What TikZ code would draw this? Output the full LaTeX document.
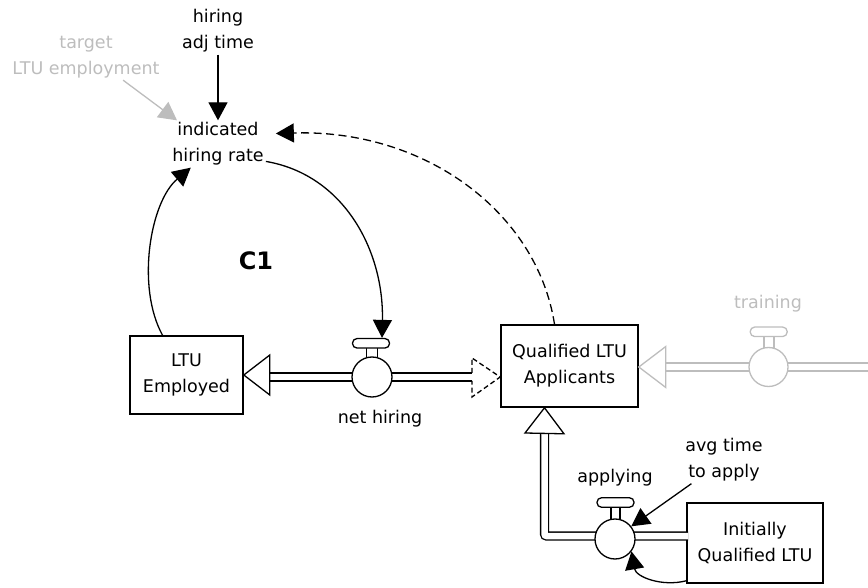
\documentclass[tikz,border=0pt]{standalone}
\usepackage{fontspec}
\setmainfont{DejaVu Sans}
\usetikzlibrary{arrows.meta}
\definecolor{faded}{gray}{0.74}
\tikzset{
  lbl/.style={align=center, font=\fontsize{17.5}{26}\selectfont, inner sep=2pt},
  stock/.style={draw, line width=1.6pt, fill=white, align=center,
    font=\fontsize{17.5}{26}\selectfont, inner sep=0pt},
  link/.style={line width=1.3pt, -{Triangle[length=18pt,width=19pt]}},
  pipe/.style={draw=#1, line width=1.3pt, double=white, double distance=6.5pt},
  pipe/.default=black,
  pipehead/.style={draw=#1, fill=white, line width=1.3pt, line join=miter},
  pipehead/.default=black,
  valvebody/.style={circle, draw=#1, fill=white, line width=1.3pt,
    minimum size=40pt, inner sep=0pt},
  valvebody/.default=black,
  valvecap/.style={draw=#1, fill=white, line width=1.3pt, rounded corners=4.5pt,
    minimum width=37pt, minimum height=9.5pt, inner sep=0pt},
  valvecap/.default=black,
  valvestem/.style={draw=#1, fill=white, line width=1.3pt},
  valvestem/.default=black,
}
\begin{document}
\begin{tikzpicture}[x=1pt,y=1pt]
\useasboundingbox (0,0) rectangle (868,587);

% auxiliary variables and their text
\node[lbl] (adj) at (218,556) {hiring\\adj time};
\node[lbl, text=faded] (tgt) at (86,530) {target\\LTU employment};
\node[lbl] (ind) at (218,443) {indicated\\hiring rate};
\node[font=\bfseries\fontsize{24}{26}\selectfont] (c1) at (256,326) {C1};
\node[lbl] (nhl) at (380,168) {net hiring};
\node[lbl, text=faded] (trl) at (768,283) {training};
\node[lbl] (apl) at (615,109) {applying};
\node[lbl] (avg) at (724,127) {avg time\\to apply};

% pipe end points
\coordinate (empbase) at (269,210);
\coordinate (nhend) at (472,210);
\coordinate (trbase) at (665,220);
\coordinate (trsrc) at (875,220);
\coordinate (qbase) at (544.5,154);

% flows (pipes)
\draw[pipe] ([xshift=-1pt]empbase) -- (nhend);
\draw[pipe=faded] ([xshift=-1pt]trbase) -- (trsrc);

% stocks
\node[stock, minimum width=113pt, minimum height=78pt] (emp) at (186.5,212) {LTU\\Employed};
\node[stock, minimum width=137pt, minimum height=82pt] (qual) at (569.5,221) {Qualified LTU\\Applicants};
\node[stock, minimum width=136pt, minimum height=80pt] (init) at (755,44) {Initially\\Qualified LTU};

% applying pipe, entering the stock from below
\draw[pipe, rounded corners=2pt] ([xshift=2pt,yshift=7pt]init.west) -| ([yshift=-1pt]qbase);
\draw[pipehead] (qbase) ++(-19.5,0) -- (qual.south -| qbase) -- ++(19.5,-26) -- cycle;

% pipe arrowheads
\draw[pipehead] (emp.east) -- ++(26,20) -- ++(0,-40) -- cycle;
\draw[pipehead=faded] (qual.east) ++(0,-1) -- ++(27,20.5) -- ++(0,-41) -- cycle;
\draw[line width=1.3pt, dash pattern=on 5pt off 3pt]
  (472,214) -- (472,229) -- (qual.west |- nhend) -- (472,190) -- (472,206);

% valve: net hiring
\draw[valvestem] (366.7,228) rectangle (377.3,240);
\node[valvebody] (nhv) at (372,210) {};
\node[valvecap] (nhc) at (371,243.7) {};

% valve: training
\draw[valvestem=faded] (764,237) rectangle (774,251);
\node[valvebody=faded, minimum size=39pt] (trv) at (768.5,220) {};
\node[valvecap=faded] (trc) at (768.7,255.2) {};

% valve: applying
\draw[valvestem] (611,66) rectangle (620,80.5);
\node[valvebody] (apv) at (615,48) {};
\node[valvecap] (apc) at (615.5,84.5) {};

% information links
\draw[link] (adj.south) -- (ind.north);
\draw[link, draw=faded, fill=faded] (tgt.-32) -- (ind.150);
\draw[link] (ind.-20) .. controls (345,412) and (384,335) .. ([xshift=11pt]nhc.north);
\draw[link] ([xshift=-24pt]emp.north) .. controls (136,300) and (150,385) .. (ind.-139);
\draw[link, dash pattern=on 8pt off 4.5pt, shorten >=10pt]
  ([xshift=-15pt]qual.north) .. controls (537,375) and (425,458) .. (ind.12);
\draw[link] (avg.-144) -- (apv.38);
\draw[link] ([yshift=3pt]init.south west) .. controls (662,0) and (636,10) .. (apv.-37);
\end{tikzpicture}
\end{document}
